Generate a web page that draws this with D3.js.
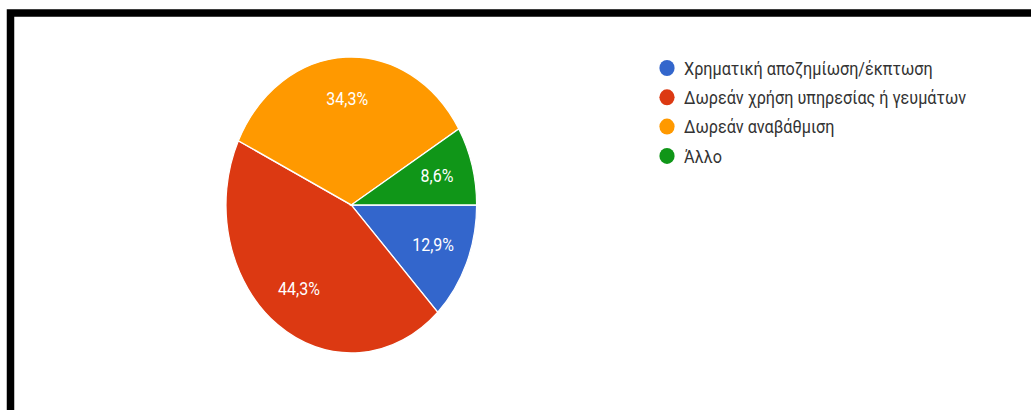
<!DOCTYPE html>
<html>
<head>
<meta charset="utf-8">
<script src="https://cdn.jsdelivr.net/npm/d3@7"></script>
<style>
  body { margin: 0; background: #fff; }
  svg { display: block; font-family: Roboto, Arial, sans-serif; }
</style>
</head>
<body>
<div id="chart"></div>
<script>
// data
var categories = ["Χρηματική αποζημίωση/έκπτωση", "Δωρεάν χρήση υπηρεσίας ή γευμάτων", "Δωρεάν αναβάθμιση", "Άλλο"];
var values = [12.9, 44.3, 34.3, 8.6];
var labels = ["12,9%", "44,3%", "34,3%", "8,6%"];
var colors = ["#3366cc", "#dc3912", "#ff9900", "#109618"];

var svgWidth = 1031, svgHeight = 410;
var cx = 351.3, cy = 205;
var rx = 125.3, ry = 148;
var stretch = ry / rx;   // the whole screenshot is stretched vertically

var svg = d3.select("#chart").append("svg")
  .attr("width", svgWidth)
  .attr("height", svgHeight);

// black frame (top and left edges visible)
svg.append("rect")
  .attr("x", 10.5).attr("y", 13)
  .attr("width", 1200).attr("height", 600)
  .attr("fill", "none")
  .attr("stroke", "#000")
  .attr("stroke-width", 7.5);

var pie = d3.pie()
  .sort(null)
  .startAngle(Math.PI / 2)
  .endAngle(Math.PI / 2 + 2 * Math.PI);

var arcs = pie(values);

var arc = d3.arc().innerRadius(0).outerRadius(rx);

var pieGroup = svg.append("g")
  .attr("transform", `translate(${cx}, ${cy}) scale(1, ${stretch})`);

pieGroup.selectAll("path")
  .data(arcs)
  .enter()
  .append("path")
  .attr("d", arc)
  .attr("fill", (d, i) => colors[i])
  .attr("stroke", "#fff")
  .attr("stroke-width", 1.2);

// slice labels
var labelArc = d3.arc().innerRadius(rx * 0.71).outerRadius(rx * 0.71);

svg.append("g")
  .selectAll("text")
  .data(arcs)
  .enter()
  .append("text")
  .attr("transform", d => {
    var c = labelArc.centroid(d);
    return `translate(${cx + c[0]}, ${cy + c[1] * stretch - 2}) scale(1, ${stretch})`;
  })
  .attr("dy", "0.35em")
  .attr("text-anchor", "middle")
  .attr("fill", "#fff")
  .style("font-size", "16px")
  .text((d, i) => labels[i]);

// legend
var legend = svg.append("g")
  .attr("transform", "translate(667, 68)");

var rows = legend.selectAll("g")
  .data(categories)
  .enter()
  .append("g")
  .attr("transform", (d, i) => `translate(0, ${i * 29.3})`);

rows.append("ellipse")
  .attr("rx", 7.6)
  .attr("ry", 7.6 * 1.05)
  .attr("fill", (d, i) => colors[i]);

rows.append("text")
  .attr("transform", `translate(17, 0) scale(1, ${stretch})`)
  .attr("dy", "0.36em")
  .attr("fill", "#333")
  .style("font-size", "16.2px")
  .text(d => d);
</script>
</body>
</html>
